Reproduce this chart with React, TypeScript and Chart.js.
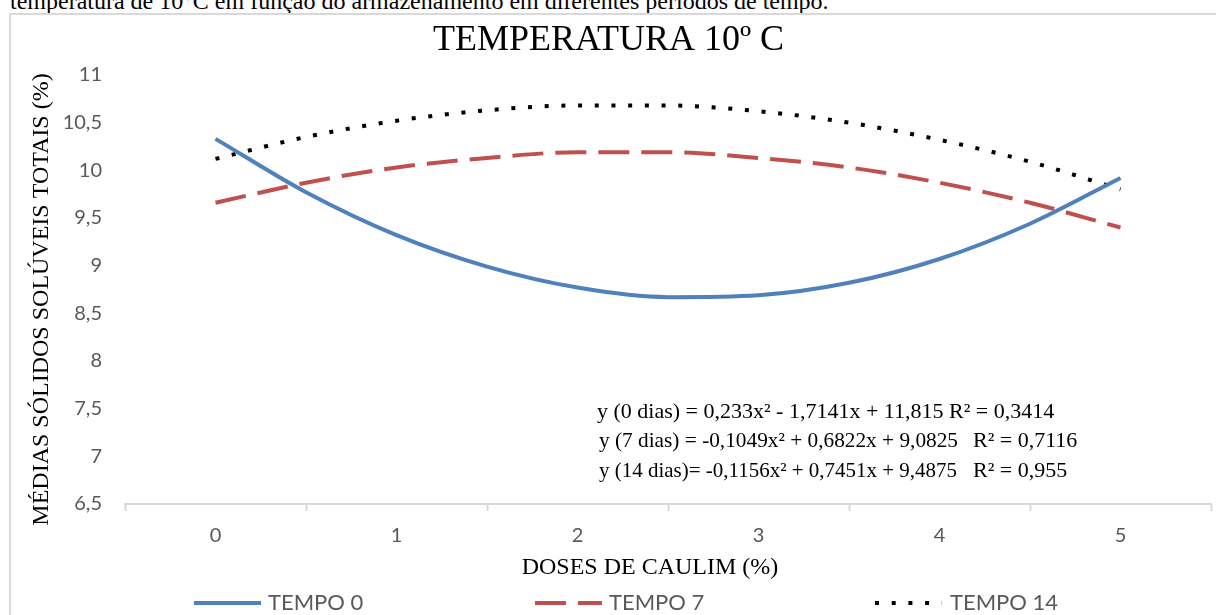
import React, { useEffect, useRef } from "react";
import { Chart, registerables } from "chart.js";

Chart.register(...registerables);

const categories = ["0", "1", "2", "3", "4", "5"];
const doses = [0, 0.5, 1, 1.5, 2, 2.5, 3, 3.5, 4, 4.5, 5];
const tempo0 = [10.33, 9.77, 9.32, 8.99, 8.77, 8.67, 8.69, 8.82, 9.07, 9.44, 9.92];
const tempo7 = [9.66, 9.87, 10.03, 10.13, 10.19, 10.19, 10.13, 10.03, 9.87, 9.66, 9.4];
const tempo14 = [10.12, 10.35, 10.52, 10.63, 10.68, 10.68, 10.62, 10.5, 10.32, 10.09, 9.8];
const seriesNames = ["TEMPO 0", "TEMPO 7", "TEMPO 14"];
const equations = [
  ["y (0 dias) = 0,233x² - 1,7141x + 11,815 R² = 0,3414", ""],
  ["y (7 dias) = -0,1049x² + 0,6822x + 9,0825", "R² = 0,7116"],
  ["y (14 dias)= -0,1156x² + 0,7451x + 9,4875", "R² = 0,955"],
];
const chartTitle = "TEMPERATURA 10º C";
const xTitle = "DOSES DE CAULIM (%)";
const yTitle = "MÉDIAS SÓLIDOS SOLÚVEIS TOTAIS (%)";
const caption =
  "temperatura de 10°C em função do armazenamento em diferentes períodos de tempo.";

const BLUE = "#4f81bd";
const RED = "#c0504d";
const BLACK = "#000000";
const SERIF = '"Liberation Serif", "Times New Roman", serif';
const SANS = 'Lato, "Open Sans", sans-serif';

const styles = [
  { color: BLUE, dash: [] as number[] },
  { color: RED, dash: [31, 12] },
  { color: BLACK, dash: [4, 12.7] },
];

const textPlugin = {
  id: "textPlugin",
  afterDraw(chart: any) {
    const ctx = chart.ctx as CanvasRenderingContext2D;
    ctx.save();
    ctx.fillStyle = "#000";
    ctx.textBaseline = "alphabetic";
    // title
    ctx.font = `36px ${SERIF}`;
    ctx.textAlign = "center";
    ctx.fillText(chartTitle, 608.5, 50);
    // x title
    ctx.font = `24px ${SERIF}`;
    ctx.fillText(xTitle, 650, 574);
    // y title
    ctx.save();
    ctx.translate(48, 299.5);
    ctx.rotate(-Math.PI / 2);
    ctx.fillText(yTitle, 0, 0);
    ctx.restore();
    // equations
    ctx.textAlign = "left";
    ctx.font = `22px ${SERIF}`;
    const eqX = [597, 599, 599];
    const eqY = [418, 447, 477];
    const eqW = [460, 359, 358];
    equations.forEach((eq, i) => {
      ctx.fillText(eq[0], eqX[i], eqY[i], eqW[i]);
      if (eq[1]) ctx.fillText(eq[1], 973, eqY[i]);
    });
    // legend
    const lx = [194, 535, 875];
    const tx = [268, 609, 950];
    const ly = 603;
    seriesNames.forEach((name, i) => {
      ctx.save();
      ctx.strokeStyle = styles[i].color;
      ctx.lineWidth = 4;
      ctx.lineCap = "butt";
      ctx.setLineDash(styles[i].dash);
      ctx.beginPath();
      ctx.moveTo(lx[i], ly);
      ctx.lineTo(lx[i] + 67, ly);
      ctx.stroke();
      ctx.restore();
      ctx.font = `22px ${SANS}`;
      ctx.fillStyle = "#595959";
      ctx.fillText(name, tx[i], 610);
    });
    ctx.restore();
  },
};

export default function App() {
  const ref = useRef<HTMLCanvasElement>(null);
  useEffect(() => {
    if (!ref.current) return;
    const series = [tempo0, tempo7, tempo14];
    const chart = new Chart(ref.current, {
      type: "line",
      data: {
        labels: categories,
        datasets: series.map((arr, i) => ({
          label: seriesNames[i],
          data: doses.map((x, j) => ({ x, y: arr[j] })),
          xAxisID: "x2",
          yAxisID: "y",
          borderColor: styles[i].color,
          backgroundColor: styles[i].color,
          borderWidth: 4,
          borderDash: styles[i].dash,
          borderCapStyle: "butt" as const,
          pointRadius: 0,
          cubicInterpolationMode: "monotone" as const,
          fill: false,
        })),
      },
      options: {
        animation: false,
        responsive: false,
        layout: { padding: { left: 0, right: 5, top: 75, bottom: 0 } },
        plugins: {
          legend: { display: false },
          title: { display: false },
          tooltip: { enabled: false },
        },
        scales: {
          x: {
            type: "category",
            position: "bottom",
            offset: true,
            grid: {
              display: true,
              offset: true,
              drawOnChartArea: false,
              drawTicks: true,
              tickLength: 7,
              tickColor: "#d9d9d9",
              tickWidth: 2,
              color: "#d9d9d9",
            },
            border: { display: true, color: "#d9d9d9", width: 2 },
            ticks: {
              color: "#595959",
              font: { family: SANS, size: 20 },
              padding: 13,
              maxRotation: 0,
              autoSkip: false,
            },
            afterFit: (s: any) => {
              s.height = 111;
            },
          },
          x2: {
            type: "linear",
            display: false,
            min: -0.5,
            max: 5.5,
          },
          y: {
            type: "linear",
            min: 6.5,
            max: 11,
            grid: { display: false, drawTicks: false },
            border: { display: false },
            ticks: {
              stepSize: 0.5,
              color: "#595959",
              font: { family: SANS, size: 20 },
              padding: 23,
              callback: (v: any) => String(v).replace(".", ","),
            },
            afterFit: (s: any) => {
              s.width = 125;
            },
          },
        },
      },
      plugins: [textPlugin],
    });
    return () => chart.destroy();
  }, []);

  return (
    <div
      style={{
        position: "fixed",
        left: 0,
        top: 0,
        width: 1216,
        height: 615,
        overflow: "hidden",
        background: "#fff",
      }}
    >
      <div
        style={{
          position: "absolute",
          left: 10,
          top: -11,
          fontFamily: SERIF,
          fontSize: 24,
          lineHeight: "24px",
          whiteSpace: "nowrap",
          color: "#000",
        }}
      >
        {caption}
      </div>
      <div
        style={{
          position: "absolute",
          left: 9,
          top: 13,
          width: 1300,
          height: 700,
          borderLeft: "2px solid #d9d9d9",
          borderTop: "2px solid #d9d9d9",
        }}
      />
      <canvas
        ref={ref}
        width={1216}
        height={615}
        style={{ position: "absolute", left: 0, top: 0 }}
      />
    </div>
  );
}
